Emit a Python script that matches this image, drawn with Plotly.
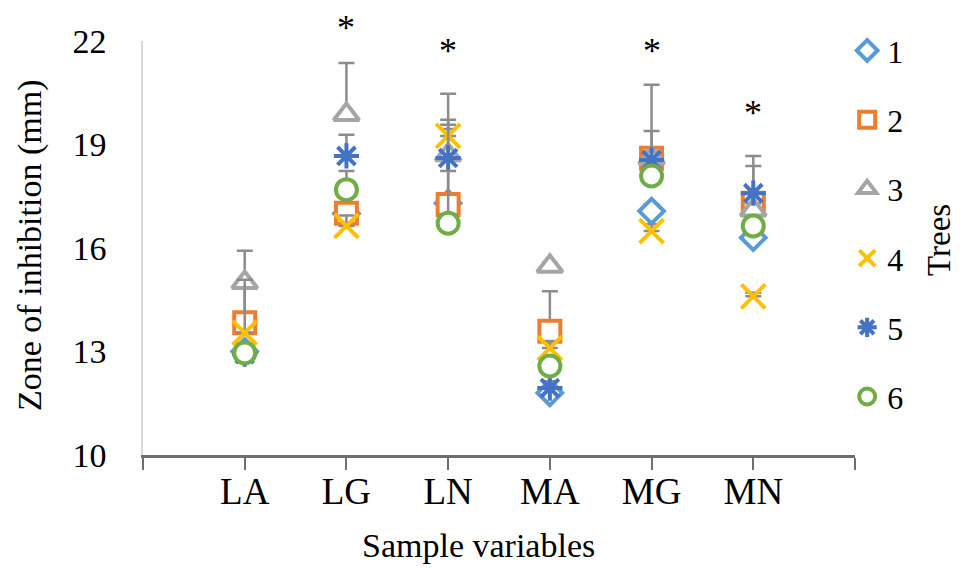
import plotly.graph_objects as go

categories = ["LA", "LG", "LN", "MA", "MG", "MN"]
cat_pos = [1, 2, 3, 4, 5, 6]
tree_names = ["1", "2", "3", "4", "5", "6"]

tree1 = [13.0, 17.0, 17.3, 11.8, 17.07, 16.3]
tree2 = [13.83, 17.01, 17.26, 13.59, 18.6, 17.3]
tree3 = [15.0, 19.87, 18.7, 15.47, 18.6, 17.1]
tree4 = [13.54, 16.64, 19.25, 13.1, 16.49, 14.6]
tree5 = [12.92, 18.67, 18.61, 11.94, 18.55, 17.59]
tree6 = [12.96, 17.69, 16.72, 12.58, 18.09, 16.64]

err1 = [0.2, 0.2, 0.2, 0.2, 0.2, 0.2]
err2 = [1.25, 0.3, 2.31, 1.16, 2.13, 1.08]
err3 = [0.92, 1.49, 1.77, 0.1, 0.2, 0.2]
err4 = [1.54, 0.3, 0.2, 0.2, 0.2, 0.1]
err5 = [0.3, 0.61, 1.11, 0.2, 0.84, 1.08]
err6 = [0.2, 0.54, 1.51, 0.2, 0.2, 0.2]

star_x = [2, 3, 5, 6]
star_y = [22.38, 21.72, 21.72, 19.9]

y_ticks = [10, 13, 16, 19, 22]
y_min, y_max = 10, 22
x_min, x_max = 0, 7

series = [tree1, tree2, tree3, tree4, tree5, tree6]
errors = [err1, err2, err3, err4, err5, err6]
colors = ["#5B9BD5", "#ED7D31", "#A5A5A5", "#FFC000", "#4472C4", "#70AD47"]
symbols = ["diamond", "square", "triangle-up", "x-thin", "asterisk", "circle"]
sizes = [19, 21, 22, 24, 21, 21]

W, H = 960, 568
l, r, t, b = 135, 113, 33, 121
pw, ph = W - l - r, H - t - b

fig = go.Figure()
for i in range(6):
    fig.add_trace(go.Scatter(
        x=cat_pos, y=series[i], mode="markers", name=tree_names[i],
        legendgroup=tree_names[i],
        marker=dict(symbol=symbols[i], size=sizes[i], color="white",
                    line=dict(color=colors[i], width=4)),
        error_y=dict(type="data", symmetric=False, array=errors[i],
                     arrayminus=[0] * 6, color="#8C8C8C", thickness=2.5, width=8),
    ))

annotations = []
# significance asterisks, positioned via the axis scale (paper fraction)
for sx, sy in zip(star_x, star_y):
    annotations.append(dict(
        text="*", x=sx, xref="x", y=(sy - y_min) / (y_max - y_min), yref="paper",
        showarrow=False, xanchor="center", yanchor="middle",
        font=dict(size=36, family="Liberation Serif", color="black")))


def px_to_paper(px, py):
    return (px - l) / pw, (H - py - b) / ph


ax_, ay_ = px_to_paper(470, 537)
annotations.append(dict(text="Sample variables", x=ax_, y=ay_, xref="paper", yref="paper",
                        showarrow=False, xanchor="center", yanchor="middle",
                        font=dict(size=34)))
ax_, ay_ = px_to_paper(22, 238)
annotations.append(dict(text="Zone of inhibition (mm)", textangle=-90, x=ax_, y=ay_,
                        xref="paper", yref="paper", showarrow=False,
                        xanchor="center", yanchor="middle", font=dict(size=34)))
ax_, ay_ = px_to_paper(931, 232)
annotations.append(dict(text="Trees", textangle=-90, x=ax_, y=ay_,
                        xref="paper", yref="paper", showarrow=False,
                        xanchor="center", yanchor="middle", font=dict(size=33)))

fig.update_layout(
    width=W, height=H,
    margin=dict(l=l, r=r, t=t, b=b),
    plot_bgcolor="white", paper_bgcolor="white",
    font=dict(family="Liberation Serif", color="black"),
    showlegend=True,
    legend=dict(x=0.989, y=1.043, xanchor="left", yanchor="top",
                font=dict(size=32, family="Liberation Serif", color="black"),
                tracegroupgap=24.6, itemwidth=30, bgcolor="rgba(0,0,0,0)",
                maxheight=1.0),
    xaxis=dict(range=[x_min, x_max], tickvals=[0, 1, 2, 3, 4, 5, 6, 7],
               ticktext=[""] + categories + [""],
               showgrid=False, zeroline=False, showline=True,
               linecolor="#6E6E6E", linewidth=2.5,
               ticks="outside", ticklen=12, tickwidth=2, tickcolor="#6E6E6E",
               tickfont=dict(size=37, family="Liberation Serif", color="black"),
               ticklabelstandoff=-10),
    yaxis=dict(range=[y_min, y_max], tickvals=y_ticks,
               showgrid=False, zeroline=False, showline=True,
               linecolor="#D9D9D9", linewidth=1.5, ticks="",
               tickfont=dict(size=34, family="Liberation Serif", color="black"),
               ticklabelstandoff=28),
    annotations=annotations,
)

fig.write_html("out.html")
